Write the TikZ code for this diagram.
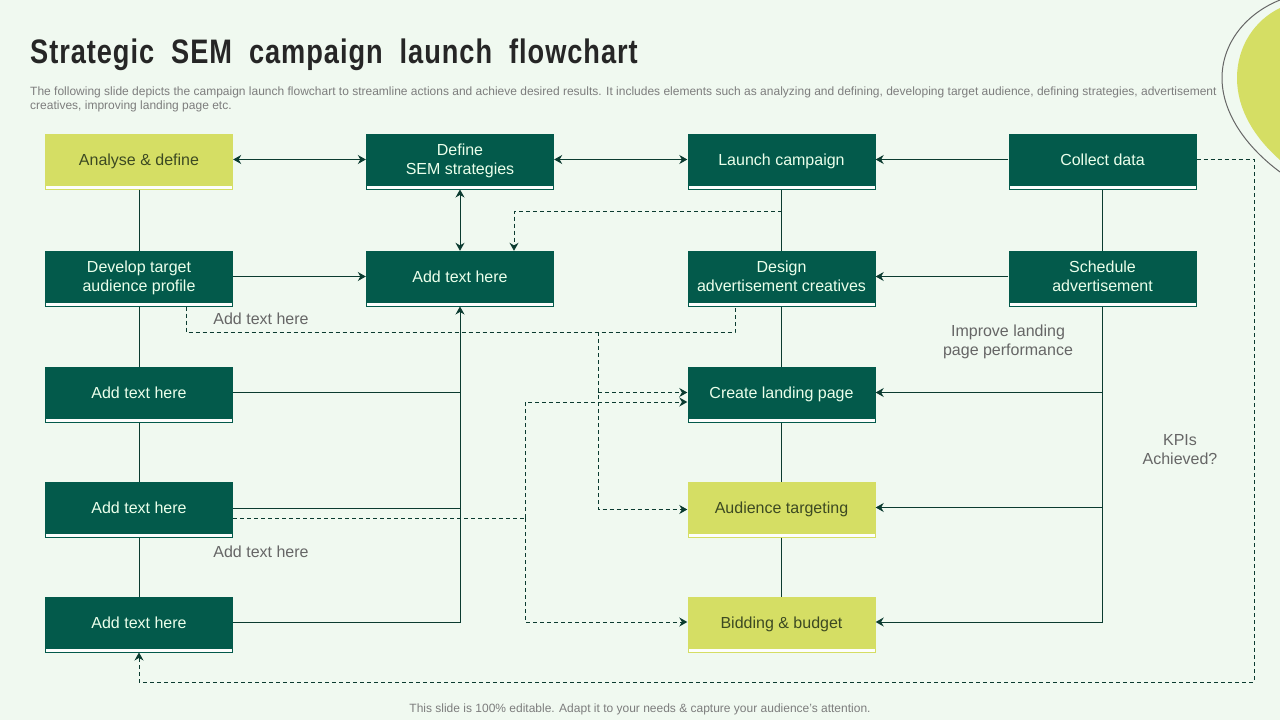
\documentclass[tikz,border=0pt]{standalone}
\usepackage{fontspec}
\setmainfont{Liberation Sans}
\newfontfamily\titlefont[FakeStretch=0.8,LetterSpace=2.8,WordSpace=2]{Liberation Sans}
\usetikzlibrary{arrows.meta,positioning}
\definecolor{pagegreen}{HTML}{F0F9F0}
\definecolor{boxgreen}{HTML}{035A4B}
\definecolor{boxlime}{HTML}{D5DE64}
\definecolor{limetext}{HTML}{3D4A22}
\definecolor{greytext}{HTML}{666666}
\definecolor{linegreen}{HTML}{0B3B30}
\tikzset{
  darkbox/.style={rectangle,fill=boxgreen,text=white!92!green,minimum width=188pt,minimum height=51pt,inner sep=0pt,align=center,font=\fontsize{16}{19}\selectfont,execute at begin node={\rule{0pt}{18.5pt}},execute at end node=\strut},
  twoline/.style={darkbox,execute at begin node={\rule{0pt}{36.5pt}}},
  limebox/.style={darkbox,fill=boxlime,text=limetext},
  darkstrip/.style={rectangle,draw=boxgreen,fill=white!85!pagegreen,minimum width=187pt,minimum height=3.5pt,inner sep=0pt,line width=.8pt},
  limestrip/.style={darkstrip,draw=boxlime},
  link/.style={draw=linegreen,line width=1pt,>={Stealth[length=8pt,width=9pt]}},
  dashlink/.style={link,dash pattern=on 4pt off 3pt},
  note/.style={text=greytext,align=center,font=\fontsize{16}{19}\selectfont},
}
\begin{document}
\begin{tikzpicture}[x=1pt,y=-1pt]
\useasboundingbox[fill=pagegreen] (0,0) rectangle (1280,720);
% corner shapes
\draw[greytext,line width=1pt] (1280,0) .. controls (1245,14) and (1222,44) .. (1222,78) .. controls (1222,112) and (1245,146) .. (1280,172);
\fill[boxlime] (1280,8) .. controls (1255,20) and (1237,46) .. (1237,78) .. controls (1237,110) and (1255,138) .. (1280,160) -- cycle;
% heading
\node[anchor=west,inner sep=0pt,font=\titlefont\fontsize{34}{40}\bfseries\selectfont,text=black!85] (title) at (30,55) {Strategic SEM campaign launch flowchart};
\node[anchor=north west,inner sep=0pt,text=greytext!85,align=left,font=\fontsize{12}{14}\selectfont] (intro) at (30,87) {The following slide depicts the campaign launch flowchart to streamline actions and achieve desired results. It includes elements such as analyzing and defining, developing target audience, defining strategies, advertisement\\creatives, improving landing page etc.};
\node[text=greytext!85,inner sep=0pt,font=\fontsize{12}{14}\selectfont] (footer) at (640,709) {This slide is 100\% editable. Adapt it to your needs \& capture your audience's attention.};
% boxes
\node[limebox] (analyse) at (139,159.5) {Analyse \& define};
\node[twoline] (define) at (460,159.5) {Define\\SEM strategies};
\node[darkbox] (launch) at (781.5,159.5) {Launch campaign};
\node[darkbox] (collect) at (1102.5,159.5) {Collect data};
\node[twoline] (develop) at (139,276.5) {Develop target\\audience profile};
\node[darkbox] (addmid) at (460,276.5) {Add text here};
\node[twoline] (design) at (781.5,276.5) {Design\\advertisement creatives};
\node[twoline] (schedule) at (1102.5,276.5) {Schedule\\advertisement};
\node[darkbox] (addone) at (139,392.5) {Add text here};
\node[darkbox] (landing) at (781.5,392.5) {Create landing page};
\node[darkbox] (addtwo) at (139,507.5) {Add text here};
\node[limebox] (targeting) at (781.5,507.5) {Audience targeting};
\node[darkbox] (addthree) at (139,622.5) {Add text here};
\node[limebox] (bidding) at (781.5,622.5) {Bidding \& budget};
\foreach \n in {define,launch,collect,develop,addmid,design,schedule,addone,landing,addtwo,addthree}
  \node[darkstrip,below=0pt of \n] (\n-s) {};
\foreach \n in {analyse,targeting,bidding}
  \node[limestrip,below=0pt of \n] (\n-s) {};
% notes
\node[note] (noteone) at (261,318.5) {Add text here};
\node[note] (notetwo) at (261,551.5) {Add text here};
\node[note] (noteland) at (1008,341.5) {Improve landing\\page performance};
\node[note] (notekpi) at (1180,450) {KPIs\\Achieved?};
% solid links
\draw[link,<->] (analyse) -- (define);
\draw[link,<->] (define) -- (launch);
\draw[link,->] (collect) -- (launch);
\draw[link,<->] (define-s) -- (addmid);
\draw[link,->] (develop) -- (addmid);
\draw[link,->] (schedule) -- (design);
\draw[link] (analyse-s) -- (develop);
\draw[link] (develop-s) -- (addone);
\draw[link] (addone-s) -- (addtwo);
\draw[link] (addtwo-s) -- (addthree);
\draw[link] (launch-s) -- (design);
\draw[link] (design-s) -- (landing);
\draw[link] (landing-s) -- (targeting);
\draw[link] (targeting-s) -- (bidding);
\draw[link] (collect-s) -- (schedule);
\coordinate (midturn) at (460,622);
\coordinate (rightturn) at (1102.5,622);
\draw[link,->] (addthree.east |- midturn) -- (midturn) -- (addmid-s);
\draw[link] (addone) -- (addone -| midturn);
\draw[link] ([yshift=-1pt]addtwo.east) -- ([yshift=-1pt]addtwo -| midturn);
\draw[link,->] (schedule-s) -- (rightturn) -- (bidding.east |- rightturn);
\draw[link,->] (rightturn |- landing) -- (landing);
\draw[link,->] (rightturn |- targeting) -- (targeting);
% dashed links
\coordinate (launchdash) at (781.5,211);
\coordinate (addmiddash) at (514,211);
\draw[dashlink,->] (launchdash) -- (addmiddash) -- (addmiddash |- addmid.north);
\coordinate (lowleft) at (186,332);
\coordinate (lowright) at (735,332);
\coordinate (lowmid) at (598,332);
\draw[dashlink] (lowleft |- develop-s.south) -- (lowleft) -- (lowright) -- (lowright |- design-s.south);
\draw[dashlink,->] (lowmid) |- ([yshift=-2pt]targeting.west);
\draw[dashlink,->] (lowmid |- landing) -- (landing);
\coordinate (splitup) at (525,402);
\coordinate (splitdown) at (525,622);
\coordinate (splitmid) at (525,518);
\draw[dashlink] (addtwo.east |- splitmid) -- (splitmid);
\draw[dashlink,->] (splitmid) -- (splitup) -- (landing.west |- splitup);
\draw[dashlink,->] (splitmid) -- (splitdown) -- (bidding.west |- splitdown);
\coordinate (farright) at (1254,159.5);
\coordinate (farlow) at (1254,682);
\draw[dashlink,->] (collect) -- (farright) -- (farlow) -| (addthree-s);
\end{tikzpicture}
\end{document}
